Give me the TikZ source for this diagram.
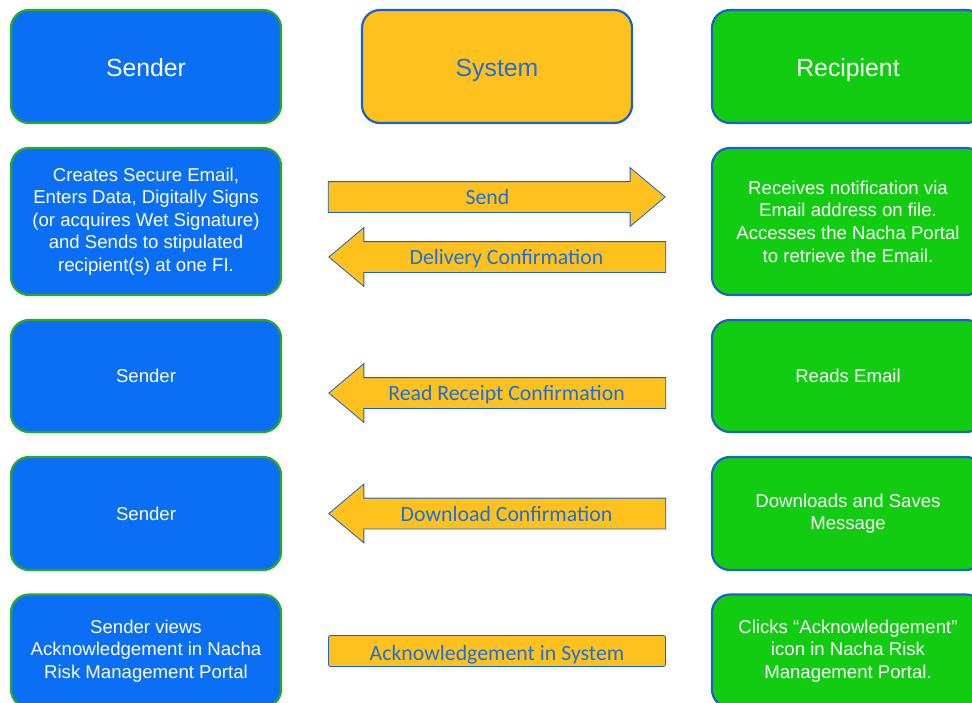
\documentclass[tikz,border=0pt]{standalone}
\usepackage{fontspec}
\setmainfont{Liberation Sans}
\newfontfamily\arrowfont{Carlito}
\usetikzlibrary{positioning,shapes.arrows}
\definecolor{sblue}{HTML}{0B6FF5}
\definecolor{syellow}{HTML}{FEC11E}
\definecolor{rgreen}{HTML}{12CC12}
\definecolor{lblue}{HTML}{1F6FD6}
\definecolor{bgreen}{HTML}{2AA82A}
\definecolor{bblue}{HTML}{1A62C8}

\begin{document}
\begin{tikzpicture}[x=1pt,y=-1pt,node distance=351pt,on grid,
    box/.style={rectangle,rounded corners=18pt,minimum width=270pt,line width=2.2pt,align=center,text=white,font=\fontsize{18.6}{22.6}\selectfont},
    sender/.style={box,fill=sblue,draw=bgreen},
    recipient/.style={box,fill=rgreen,draw=bblue,minimum width=272pt},
    head/.style={minimum height=113pt,text height=22pt,text depth=3pt,font=\fontsize{24.8}{28}\selectfont},
    flow/.style={single arrow,fill=syellow,draw=bblue,line width=0.8pt,text=lblue,font=\arrowfont\fontsize{21.8}{22}\selectfont,text height=16.5pt,text depth=1.5pt,inner ysep=6pt,single arrow head extend=14pt,single arrow tip angle=80,minimum height=337pt,xshift=-9.5pt},
    back/.style={flow,shape border rotate=180,xshift=19pt}]
    \clip (0,0) rectangle (972,702);

    % column heads
    \node[sender,head] (s0) at (146,66.5) {Sender};
    \node[box,head,fill=syellow,draw=bblue,text=lblue] (y0) [right=of s0] {System};
    \node[recipient,head] (r0) [right=of y0] {Recipient};

    % sender column
    \node[sender,minimum height=147pt] (s1) [below=155pt of s0] {Creates Secure Email,\\Enters Data, Digitally Signs\\(or acquires Wet Signature)\\and Sends to stipulated\\recipient(s) at one FI.};
    \node[sender,minimum height=112pt] (s2) [below=154.5pt of s1] {Sender};
    \node[sender,minimum height=113pt] (s3) [below=137.5pt of s2] {Sender};
    \node[sender,minimum height=113pt] (s4) [below=137.5pt of s3] {Sender views\\Acknowledgement in Nacha\\Risk Management Portal};

    % recipient column
    \node[recipient,minimum height=147pt] (r1) [right=702pt of s1] {Receives notification via\\Email address on file.\\Accesses the Nacha Portal\\to retrieve the Email.};
    \node[recipient,minimum height=112pt] (r2) [right=702pt of s2] {Reads Email};
    \node[recipient,minimum height=113pt] (r3) [right=702pt of s3] {Downloads and Saves\\Message};
    \node[recipient,minimum height=113pt] (r4) [right=702pt of s4] {Clicks “Acknowledgement”\\icon in Nacha Risk\\Management Portal.};

    % system arrows
    \node[flow] (a1) [above right=24.5pt and 351pt of s1] {Send};
    \node[back] (a2) [below right=35.5pt and 351pt of s1] {Delivery Confirmation};
    \node[back] (a3) [below right=17pt and 351pt of s2] {Read Receipt Confirmation};
    \node[back] (a4) [right=of s3] {Download Confirmation};
    \node[rectangle,rounded corners=2pt,fill=syellow,draw=bblue,line width=0.8pt,text=lblue,font=\arrowfont\fontsize{21.8}{22}\selectfont,text height=19pt,text depth=1pt,minimum width=337pt,minimum height=31pt,inner sep=0pt] (a5) [right=of s4] {Acknowledgement in System};
\end{tikzpicture}
\end{document}
